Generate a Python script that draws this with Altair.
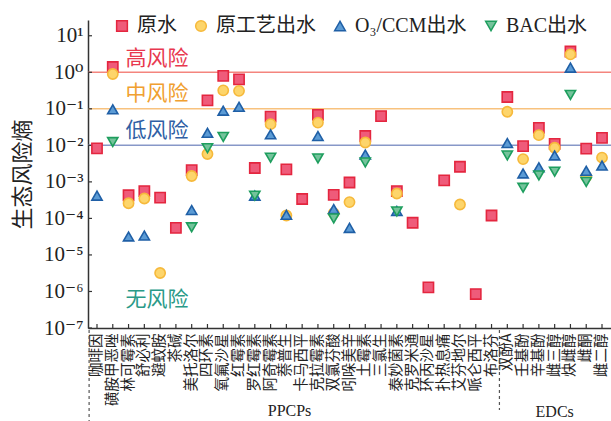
import altair as alt
import pandas as pd

# Compounds on the x axis (26 PPCPs followed by 7 EDCs)
categories = [
    "咖啡因", "磺胺甲恶唑", "林可霉素", "舒必利", "避蚊胺", "茶碱", "美托洛尔",
    "四环素", "氧氟沙星", "红霉素", "罗红霉素", "阿奇霉素", "萘普生", "卡马西平",
    "克拉霉素", "双氯芬酸", "吲哚美辛", "土霉素", "三氯生", "泰妙菌素", "克罗米通",
    "环丙沙星", "扑热息痛", "艾芬地尔", "哌仑西平", "布洛芬",
    "双酚A", "壬基酚", "辛基酚", "雌三醇", "炔雌醇", "雌酮", "雌二醇",
]

series_names = ["原水", "原工艺出水", "O₃/CCM出水", "BAC出水"]

# Ecological risk quotients per compound (None = not detected)
raw_water = [
    0.0083, 1.4, 4.3e-4, 5.6e-4, 3.7e-4, 5.5e-5, 2.1e-3,
    0.17, 0.80, 0.64, 2.4e-3, 0.061, 2.2e-3, 3.4e-4,
    0.068, 4.4e-4, 9.6e-4, 0.018, 0.063, 5.6e-4, 7.6e-5,
    1.3e-6, 1.1e-3, 2.6e-3, 8.5e-7, 1.2e-4,
    0.21, 0.0095, 0.030, 0.011, 3.7, 0.0081, 0.016,
]
original_effluent = [
    None, 0.9, 2.6e-4, 3.5e-4, 3.2e-6, None, 1.45e-3,
    0.0058, 0.32, 0.31, None, 0.038, 1.2e-4, None,
    0.042, 1.4e-4, 2.8e-4, 0.012, None, 4.8e-4, None,
    None, None, 2.4e-4, None, None,
    0.083, 0.0042, 0.019, 0.0086, 3.1, 0.0014, 0.0046,
]
o3ccm_effluent = [
    4.2e-4, 0.097, 3.2e-5, 3.4e-5, None, None, 1.7e-4,
    0.022, 0.089, 0.113, 4.2e-4, 0.020, 1.25e-4, None,
    0.018, 1.8e-4, 5.5e-5, 0.0056, None, 1.6e-4, None,
    None, None, None, None, None,
    0.0115, 0.0017, 0.0025, 0.0053, 1.34, 0.0020, 0.0028,
]
bac_effluent = [
    None, 0.0123, None, None, None, None, 5.7e-5,
    0.0084, 0.017, None, 4.2e-4, 0.0046, None, None,
    0.0044, 1.0e-4, None, 0.0034, None, 1.55e-4, None,
    None, None, None, None, None,
    0.0053, 6.9e-4, 0.0015, 0.0019, 0.24, 0.0010, None,
]

risk_thresholds = [1, 0.1, 0.01]
decades = [1e-7, 1e-6, 1e-5, 1e-4, 1e-3, 1e-2, 1e-1, 1, 10]
superscript_labels = ["10⁻⁷", "10⁻⁶", "10⁻⁵", "10⁻⁴", "10⁻³", "10⁻²", "10⁻¹", "10⁰", "10¹"]

rows = []
for name, vals in zip(series_names, [raw_water, original_effluent, o3ccm_effluent, bac_effluent]):
    for cat, v in zip(categories, vals):
        if v is not None:
            rows.append({"cat": cat, "value": v, "series": name})
df = pd.DataFrame(rows)

W, H = 523, 308
CJK = "Noto Sans CJK SC"
SERIF = "Liberation Serif, DejaVu Serif"
MIXED = "Liberation Serif, DejaVu Serif, Noto Sans CJK SC"
AXIS_COLOR = "#333333"

x_scale = alt.Scale(type="band", domain=categories, paddingInner=0, paddingOuter=0.07)
x_axis = alt.Axis(
    title=None, labelAngle=-90, labelAlign="right", labelBaseline="middle",
    labelFont=CJK, labelFontSize=14.5, labelColor="#222222", labelPadding=5,
    ticks=False, tickSize=0, domainColor=AXIS_COLOR, domainWidth=1.5,
    labelOverlap=False, labelFlush=False, grid=False,
)
y_scale = alt.Scale(type="log", domain=[1e-7, 27], nice=False)
label_expr = "[" + ",".join("'%s'" % s for s in superscript_labels) + "][round(log(datum.value)/LN10)+7]"
y_axis = alt.Axis(
    values=decades, labelExpr=label_expr, labelFont=SERIF, labelFontSize=21,
    labelColor="#222222", labelPadding=5, ticks=False, tickSize=0,
    domainColor=AXIS_COLOR, domainWidth=1.5, grid=False,
    title="生态风险熵", titleFont=CJK, titleFontSize=22, titleFontWeight="normal",
    titleColor="#222222", titleAngle=-90, titleX=-66, titleY=H / 2,
    titleAlign="center", titleBaseline="middle",
)

X = lambda **kw: alt.X("cat:N", scale=x_scale, axis=x_axis, **kw)
Y = lambda: alt.Y("value:Q", scale=y_scale, axis=y_axis)

fill_colors = ["#ef5b7a", "#fdd56b", "#5b9bd5", "#74c39b"]
stroke_colors = ["#e4263f", "#f6b93b", "#1f5fa6", "#1e9e5e"]
shapes = ["square", "circle", "triangle-up", "triangle-down"]

legend = alt.Legend(
    orient="none", legendX=24, legendY=-4, direction="horizontal",
    labelFont=MIXED, labelFontSize=20, labelColor="#222222", labelOffset=5,
    symbolSize=115, symbolStrokeWidth=1.5, columnPadding=14, padding=0,
)

points = alt.Chart(df).mark_point(opacity=1, fillOpacity=1, strokeWidth=1.6, size=105).encode(
    x=X(),
    y=Y(),
    fill=alt.Fill("series:N", scale=alt.Scale(domain=series_names, range=fill_colors), legend=legend, title=None),
    stroke=alt.Stroke("series:N", scale=alt.Scale(domain=series_names, range=stroke_colors), legend=legend, title=None),
    shape=alt.Shape("series:N", scale=alt.Scale(domain=series_names, range=shapes), legend=legend, title=None),
)

# Risk threshold lines
line_colors = ["#f4857e", "#f8c27e", "#8798c8"]
threshold_layers = [
    alt.Chart(pd.DataFrame({"value": [t]})).mark_rule(color=c, strokeWidth=1.5).encode(y=Y())
    for t, c in zip(risk_thresholds, line_colors)
]

# Risk-level annotations
risk_text = [
    ("高风险", 2.3, "#e8384f"),
    ("中风险", 0.25, "#f0a030"),
    ("低风险", 0.024, "#2f5fa5"),
    ("无风险", 6e-7, "#2a9a88"),
]
text_layers = [
    alt.Chart(pd.DataFrame({"cat": ["林可霉素"], "value": [v], "label": [t]}))
    .mark_text(align="left", baseline="middle", font=CJK, fontSize=21, color=c)
    .encode(x=X(bandPosition=0.3), y=Y(), text="label:N")
    for t, v, c in risk_text
]

# Inward tick marks
x_ticks = alt.Chart(pd.DataFrame({"cat": categories})).mark_rule(color=AXIS_COLOR, strokeWidth=1.2).encode(
    x=X(), y=alt.value(H), y2=alt.value(H - 4)
)
y_ticks = alt.Chart(pd.DataFrame({"value": decades})).mark_rule(color=AXIS_COLOR, strokeWidth=1.2).encode(
    y=Y(), x=alt.value(0), x2=alt.value(4)
)

# Group separators and group names below the axis
sep_left = alt.Chart(pd.DataFrame({"cat": ["咖啡因"]})).mark_rule(
    color="#555555", strokeWidth=1.2, strokeDash=[3, 3]
).encode(x=X(bandPosition=0), y=alt.value(H + 2), y2=alt.value(H + 93))
sep_edc = alt.Chart(pd.DataFrame({"cat": ["双酚A"]})).mark_rule(
    color="#555555", strokeWidth=1.2, strokeDash=[3, 3]
).encode(x=X(bandPosition=0), y=alt.value(H + 2), y2=alt.value(H + 82))
group_ppcps = alt.Chart(pd.DataFrame({"cat": ["萘普生"], "label": ["PPCPs"]})).mark_text(
    font=SERIF, fontSize=16, color="#222222", baseline="middle"
).encode(x=X(bandPosition=0.7), y=alt.value(H + 83), text="label:N")
group_edcs = alt.Chart(pd.DataFrame({"cat": ["雌三醇"], "label": ["EDCs"]})).mark_text(
    font=SERIF, fontSize=16, color="#222222", baseline="middle"
).encode(x=X(), y=alt.value(H + 84), text="label:N")

chart = alt.layer(
    *threshold_layers, *text_layers, x_ticks, y_ticks, sep_left, sep_edc,
    group_ppcps, group_edcs, points,
).properties(
    width=W, height=H,
    autosize=alt.AutoSizeParams(type="none"),
    padding={"left": 88, "top": 20, "right": 0, "bottom": 93},
    background="white",
).configure_view(stroke=None)

chart.save("out.html", embed_options={"renderer": "svg", "actions": False})
